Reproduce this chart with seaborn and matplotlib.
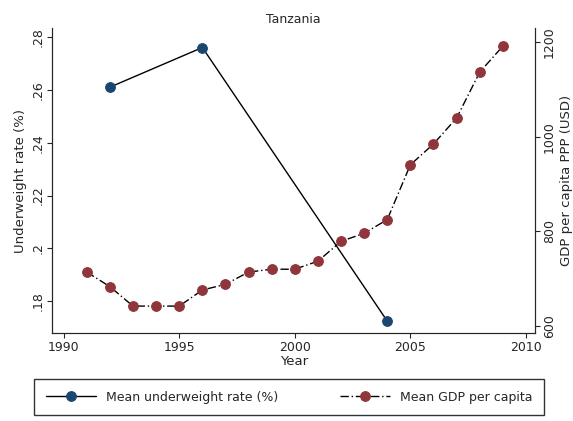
import matplotlib
matplotlib.use('Agg')
import matplotlib.pyplot as plt
import seaborn as sns
import pandas as pd

# Underweight rate (left axis)
uw_years = [1992, 1996, 2004]
uw_rate = [0.261, 0.276, 0.1725]

# GDP per capita PPP (right axis)
gdp_years = list(range(1991, 2010))
gdp_vals = [714, 683, 642, 642, 642, 676, 688, 714, 720, 720, 737,
            779, 796, 825, 941, 985, 1040, 1137, 1192]

uw = pd.DataFrame({'year': uw_years, 'rate': uw_rate})
gdp = pd.DataFrame({'year': gdp_years, 'gdp': gdp_vals})

sns.set_style('ticks')
plt.rcParams['font.family'] = ['DejaVu Sans']

fig = plt.figure(figsize=(5.73, 4.21), dpi=100)
ax = fig.add_axes([0.091, 0.209, 0.843, 0.724])
ax2 = ax.twinx()

sns.lineplot(data=uw, x='year', y='rate', ax=ax, color='black', lw=1,
             marker='o', markersize=7, markerfacecolor='#1a476f',
             markeredgecolor='#1a476f', label='Mean underweight rate (%)', legend=False)
sns.lineplot(data=gdp, x='year', y='gdp', ax=ax2, color='black', lw=1,
             linestyle=(0, (6, 2, 1, 2)), marker='o', markersize=7,
             markerfacecolor='#90353b', markeredgecolor='#90353b',
             label='Mean GDP per capita', legend=False)

ax.set_xlim(1989.5, 2010.4)
ax.set_ylim(0.168, 0.2833)
ax2.set_ylim(585, 1230)
ax.set_xticks([1990, 1995, 2000, 2005, 2010])
ax.set_yticks([0.18, 0.2, 0.22, 0.24, 0.26, 0.28])
ax.set_yticklabels(['.18', '.2', '.22', '.24', '.26', '.28'], rotation=90, va='center')
ax2.set_yticks([600, 800, 1000, 1200])
ax2.set_yticklabels(['600', '800', '1000', '1200'], rotation=90, va='center')
ax.set_xlabel('Year', fontsize=9.5, labelpad=1)
ax.set_ylabel('Underweight rate (%)', fontsize=9.5, labelpad=3)
ax2.set_ylabel('GDP per capita PPP (USD)', fontsize=9.5, labelpad=3)
ax.set_title('Tanzania', fontsize=9, pad=4)
for a in (ax, ax2):
    a.spines['top'].set_visible(False)
    a.tick_params(labelsize=9, pad=2)

h1, l1 = ax.get_legend_handles_labels()
h2, l2 = ax2.get_legend_handles_labels()
fig.legend(h1 + h2, l1 + l2, loc='lower center', bbox_to_anchor=(0.505, 0.0),
           ncol=2, frameon=True, fancybox=False, edgecolor='black',
           fontsize=9, handlelength=4, columnspacing=5,
           borderpad=0.9)

fig.savefig('out.png', dpi=100, facecolor='white')
